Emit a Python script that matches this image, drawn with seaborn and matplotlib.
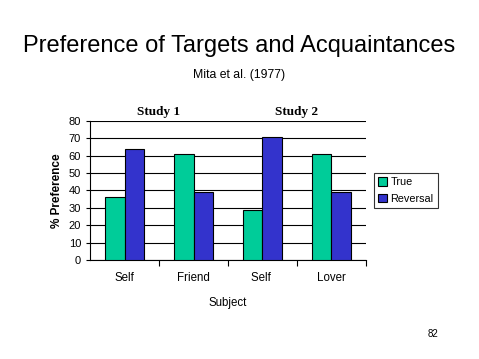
import pandas as pd
import matplotlib.pyplot as plt
import seaborn as sns
import numpy as np

# Daten
subjects = ['Self', 'Friend', 'Self ', 'Lover']
true_vals = [36, 61, 29, 61]
reversal_vals = [64, 39, 71, 39]
series = ['True', 'Reversal']
studies = ['Study 1', 'Study 2']

df = pd.DataFrame({
    'Subject': subjects * 2,
    'Value': true_vals + reversal_vals,
    'Series': [series[0]] * 4 + [series[1]] * 4,
})

plt.rcParams['font.family'] = ['Liberation Sans', 'DejaVu Sans']

fig = plt.figure(figsize=(4.79, 3.59), dpi=100)
ax = fig.add_axes([0.188, 0.276, 0.576, 0.387])

sns.barplot(data=df, x='Subject', y='Value', hue='Series', order=subjects,
            palette=['#00CC99', '#3333CC'], saturation=1, width=0.57,
            edgecolor='black', linewidth=0.8, ax=ax, zorder=3)

ax.set_ylim(0, 80)
ax.set_xlim(-0.5, 3.5)
ax.set_yticks(np.arange(0, 81, 10))
ax.yaxis.grid(True, color='black', linewidth=0.8, zorder=0)
ax.set_axisbelow(True)
for s in ['top', 'right']:
    ax.spines[s].set_visible(False)
ax.spines['left'].set_linewidth(0.8)
ax.spines['bottom'].set_linewidth(0.8)

# Tick-Striche zwischen den Kategorien
ax.set_xticks([0.5, 1.5, 2.5, 3.5], minor=False)
ax.set_xticklabels([])
ax.set_xticks(range(4), minor=True)
ax.set_xticklabels(subjects, minor=True, fontsize=8.3)
ax.tick_params(axis='x', which='minor', length=0, pad=9)
ax.tick_params(axis='x', which='major', length=4, width=0.8)
ax.tick_params(axis='y', labelsize=8, length=3, width=0.8)

ax.set_xlabel('Subject', fontsize=8.3, labelpad=9)
ax.set_ylabel('% Preference', fontsize=8.5, fontweight='bold', labelpad=4)

# Studienbeschriftung
ax.text(0.5, 81.5, studies[0], ha='center', va='bottom', fontsize=9.5,
        fontweight='bold', family='Liberation Serif')
ax.text(2.5, 81.5, studies[1], ha='center', va='bottom', fontsize=9.5,
        fontweight='bold', family='Liberation Serif')

leg = ax.legend(loc='center left', bbox_to_anchor=(1.01, 0.5), fontsize=7.8,
                frameon=True, fancybox=False, edgecolor='black',
                handlelength=0.8, handleheight=0.8, handletextpad=0.3,
                borderpad=0.4, labelspacing=0.6)
leg.get_frame().set_linewidth(0.8)

# Titel
fig.text(0.5, 0.872, 'Preference of Targets and Acquaintances', ha='center',
         va='center', fontsize=17)
fig.text(0.5, 0.79, 'Mita et al. (1977)', ha='center', va='center', fontsize=8.8)
fig.text(0.905, 0.07, '82', ha='center', va='center', fontsize=7)

plt.savefig('out.png', dpi=100)
